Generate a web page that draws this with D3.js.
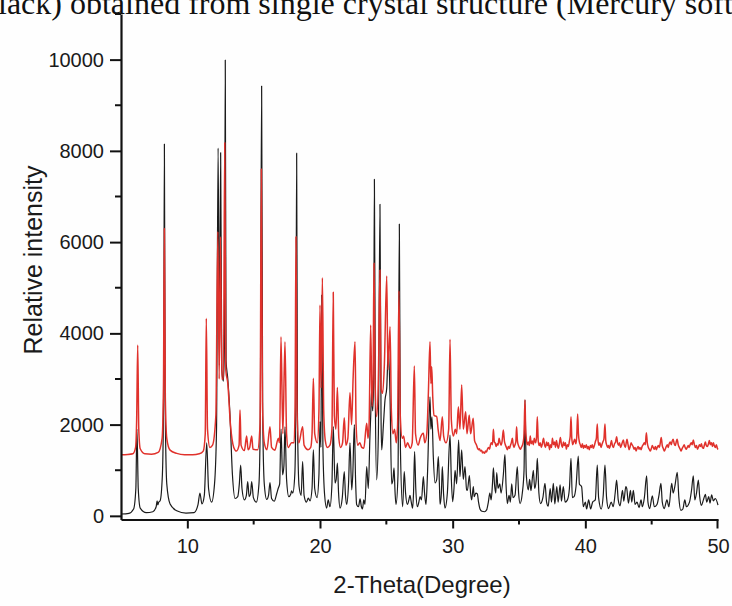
<!DOCTYPE html>
<html>
<head>
<meta charset="utf-8">
<script src="https://cdn.jsdelivr.net/npm/d3@7"></script>
<style>
  html, body { margin: 0; padding: 0; background: #fefefe; }
  svg { display: block; }
</style>
</head>
<body>
<svg id="chart" width="732" height="606"></svg>
<script>
// Calculated pattern (black): [2-theta, intensity]
const calculated = [
  [5.0, 40], [5.6, 55], [5.95, 150], [6.12, 600], [6.2, 1900], [6.3, 600], [6.45, 170], [6.9, 70],
  [7.4, 90], [7.65, 200], [7.72, 330], [7.78, 240], [7.84, 300], [7.95, 330], [8.12, 900], [8.22, 3000],
  [8.27, 8150], [8.33, 2500], [8.45, 700], [8.7, 260], [9.2, 110], [9.9, 60], [10.5, 70], [10.8, 240],
  [10.95, 500], [11.1, 260], [11.28, 450], [11.46, 1600], [11.6, 600], [11.83, 300], [12.05, 700], [12.2, 1900],
  [12.32, 8060], [12.42, 3300], [12.51, 7960], [12.6, 3200], [12.72, 2950], [12.8, 3800], [12.86, 9990], [12.92, 3400],
  [13.05, 3000], [13.2, 2300], [13.4, 900], [13.6, 380], [13.8, 420], [13.92, 700], [14.02, 1115], [14.12, 600],
  [14.3, 350], [14.45, 450], [14.55, 750], [14.66, 420], [14.76, 480], [14.85, 750], [14.98, 400], [15.2, 300],
  [15.4, 700], [15.5, 2200], [15.6, 9420], [15.68, 2200], [15.8, 700], [15.98, 360], [16.12, 450], [16.23, 730],
  [16.35, 380], [16.55, 320], [16.75, 500], [16.86, 610], [16.96, 700], [17.06, 1900], [17.18, 900], [17.28, 1100],
  [17.36, 1950], [17.48, 800], [17.65, 420], [17.8, 480], [17.86, 550], [17.95, 500], [18.1, 900], [18.18, 2500],
  [18.24, 7950], [18.3, 2200], [18.42, 650], [18.58, 450], [18.69, 1190], [18.8, 450], [18.98, 300], [19.12, 390],
  [19.25, 330], [19.4, 600], [19.5, 1445], [19.6, 600], [19.78, 400], [19.92, 900], [20.0, 2065], [20.07, 1500],
  [20.13, 4840], [20.22, 1500], [20.35, 450], [20.5, 170], [20.62, 350], [20.75, 200], [20.9, 700], [21.0, 1955],
  [21.13, 720], [21.22, 800], [21.31, 1155], [21.4, 500], [21.51, 170], [21.68, 400], [21.83, 970], [21.92, 450],
  [22.01, 250], [22.15, 700], [22.26, 1600], [22.39, 570], [22.47, 900], [22.59, 2000], [22.68, 800], [22.76, 250],
  [22.9, 200], [23.02, 370], [23.12, 200], [23.2, 150], [23.3, 350], [23.39, 250], [23.52, 1080], [23.64, 600],
  [23.77, 1800], [23.82, 2170], [23.89, 2750], [23.97, 2300], [24.04, 2900], [24.1, 7376], [24.17, 2600], [24.27, 790],
  [24.4, 1800], [24.52, 6828], [24.6, 2200], [24.65, 1445], [24.78, 2000], [24.9, 2540], [25.03, 2800], [25.15, 3670],
  [25.28, 2600], [25.4, 700], [25.5, 800], [25.58, 1050], [25.66, 500], [25.73, 250], [25.88, 900], [25.98, 6397],
  [26.06, 1500], [26.23, 200], [26.35, 970], [26.45, 500], [26.58, 250], [26.7, 350], [26.78, 450], [26.88, 300],
  [26.98, 170], [27.05, 500], [27.13, 1410], [27.22, 600], [27.34, 200], [27.45, 300], [27.54, 420], [27.65, 350],
  [27.79, 860], [27.88, 500], [27.99, 250], [28.1, 900], [28.29, 2610], [28.36, 1900], [28.44, 2170], [28.54, 1300],
  [28.67, 720], [28.8, 800], [28.92, 1300], [29.0, 700], [29.05, 250], [29.15, 500], [29.22, 1080], [29.32, 450],
  [29.42, 170], [29.6, 500], [29.8, 1770], [29.9, 800], [30.0, 310], [30.1, 600], [30.18, 1000], [30.3, 700],
  [30.45, 1660], [30.55, 860], [30.68, 1445], [30.8, 800], [30.93, 1080], [31.05, 570], [31.11, 560], [31.26, 880],
  [31.35, 500], [31.43, 350], [31.56, 640], [31.62, 420], [31.75, 500], [31.86, 480], [31.95, 300], [32.06, 150],
  [32.2, 100], [32.4, 90], [32.56, 130], [32.69, 300], [32.8, 500], [32.9, 350], [33.0, 700], [33.07, 1050],
  [33.15, 700], [33.25, 500], [33.32, 950], [33.42, 600], [33.55, 700], [33.65, 500], [33.82, 900], [33.94, 1340],
  [34.02, 700], [34.12, 270], [34.25, 450], [34.35, 300], [34.45, 700], [34.55, 400], [34.7, 450], [34.87, 1080],
  [34.97, 500], [35.08, 270], [35.25, 500], [35.38, 1000], [35.45, 2540], [35.55, 900], [35.7, 570], [35.8, 800],
  [35.9, 550], [36.08, 1000], [36.18, 600], [36.3, 800], [36.38, 1260], [36.5, 500], [36.62, 270], [36.8, 400],
  [36.96, 710], [37.08, 300], [37.2, 210], [37.35, 600], [37.45, 300], [37.59, 710], [37.7, 260], [37.85, 640],
  [37.95, 300], [38.1, 680], [38.2, 320], [38.34, 640], [38.48, 300], [38.65, 350], [38.8, 600], [38.92, 1260],
  [39.02, 400], [39.15, 420], [39.3, 650], [39.47, 1310], [39.55, 700], [39.72, 640], [39.85, 200], [40.0, 300],
  [40.1, 150], [40.25, 350], [40.4, 150], [40.55, 300], [40.75, 350], [40.9, 1115], [41.0, 400], [41.2, 150],
  [41.35, 450], [41.48, 1115], [41.6, 400], [41.75, 160], [41.95, 300], [42.1, 200], [42.25, 500], [42.36, 785],
  [42.48, 350], [42.62, 220], [42.8, 560], [42.9, 320], [43.05, 640], [43.12, 600], [43.25, 280], [43.4, 560],
  [43.5, 300], [43.62, 560], [43.75, 250], [43.9, 300], [44.05, 180], [44.2, 350], [44.3, 200], [44.45, 400],
  [44.62, 875], [44.72, 300], [44.85, 160], [45.05, 440], [45.2, 200], [45.4, 250], [45.55, 450], [45.7, 710],
  [45.8, 300], [45.95, 160], [46.15, 350], [46.3, 200], [46.51, 710], [46.62, 500], [46.75, 650], [46.93, 955],
  [47.05, 400], [47.2, 120], [47.35, 150], [47.5, 350], [47.62, 200], [47.85, 300], [48.0, 550], [48.14, 875],
  [48.25, 347], [48.38, 500], [48.52, 785], [48.62, 420], [48.75, 230], [48.9, 350], [49.05, 470], [49.15, 300],
  [49.3, 420], [49.4, 280], [49.52, 460], [49.65, 330], [49.8, 380], [50.0, 237]
];

// Measured pattern (red): [2-theta, intensity]
const measured = [
  [5.0, 1340], [5.5, 1345], [5.9, 1360], [6.1, 1500], [6.18, 2100], [6.26, 3745], [6.34, 1900], [6.45, 1470],
  [6.8, 1360], [7.3, 1350], [7.8, 1390], [8.1, 1700], [8.2, 2800], [8.27, 6300], [8.34, 2600], [8.45, 1700],
  [8.7, 1440], [9.2, 1370], [9.8, 1340], [10.4, 1340], [10.9, 1360], [11.2, 1420], [11.35, 1800], [11.43, 4330],
  [11.52, 1900], [11.7, 1500], [11.9, 1550], [12.15, 2200], [12.3, 6230], [12.4, 3000], [12.5, 6120], [12.6, 3000],
  [12.72, 3000], [12.82, 8180], [12.9, 3200], [13.05, 2900], [13.25, 2000], [13.5, 1500], [13.7, 1420], [13.9, 1550],
  [13.97, 2320], [14.05, 1550], [14.3, 1430], [14.47, 1750], [14.58, 1450], [14.7, 1500], [14.85, 1750], [14.95, 1460],
  [15.3, 1450], [15.48, 2000], [15.58, 7600], [15.66, 2500], [15.8, 1600], [16.0, 1450], [16.23, 1954], [16.35, 1500],
  [16.6, 1440], [16.86, 1700], [16.95, 1600], [17.06, 3927], [17.2, 1800], [17.36, 3818], [17.48, 1800], [17.6, 1500],
  [17.86, 1600], [18.05, 1600], [18.12, 2400], [18.19, 6120], [18.27, 2300], [18.4, 1600], [18.69, 1954], [18.8, 1550],
  [19.1, 1450], [19.3, 1500], [19.4, 1800], [19.5, 3015], [19.6, 1800], [19.8, 1600], [19.92, 2300], [20.0, 4621],
  [20.08, 2800], [20.18, 5220], [20.28, 2300], [20.4, 1650], [20.55, 1500], [20.75, 1550], [20.9, 1900], [21.0, 4899],
  [21.08, 2200], [21.2, 1900], [21.31, 2816], [21.42, 1700], [21.55, 1500], [21.7, 1600], [21.83, 2151], [21.95, 1550],
  [22.1, 1700], [22.26, 2699], [22.38, 2000], [22.5, 3050], [22.64, 3818], [22.72, 2000], [22.85, 1550], [23.0, 1600],
  [23.15, 1500], [23.3, 1480], [23.52, 2027], [23.62, 1700], [23.7, 2000], [23.82, 4183], [23.92, 2400], [24.0, 3000],
  [24.07, 5535], [24.15, 3000], [24.27, 2173], [24.4, 3000], [24.52, 5389], [24.6, 2800], [24.72, 2685], [24.85, 3300],
  [25.03, 5257], [25.12, 3200], [25.28, 4146], [25.38, 2300], [25.5, 1800], [25.62, 1900], [25.75, 1600], [25.85, 2000],
  [25.95, 4935], [26.05, 2200], [26.2, 1700], [26.3, 1750], [26.45, 1500], [26.6, 1600], [26.8, 1480], [26.95, 1600],
  [27.11, 3284], [27.2, 1800], [27.4, 1550], [27.55, 1700], [27.79, 1808], [27.9, 1600], [28.05, 1800], [28.17, 2700],
  [28.29, 3817], [28.36, 2900], [28.42, 3269], [28.5, 2600], [28.6, 2200], [28.8, 2173], [28.9, 1900], [29.05, 1650],
  [29.22, 2173], [29.32, 1750], [29.5, 1600], [29.7, 1900], [29.8, 3869], [29.9, 2100], [30.05, 1750], [30.2, 1900],
  [30.3, 1800], [30.43, 2393], [30.55, 1900], [30.68, 2868], [30.8, 1900], [30.98, 2283], [31.08, 1800], [31.25, 2210],
  [31.35, 1800], [31.55, 2137], [31.65, 1650], [31.8, 1550], [31.88, 1480], [31.95, 1450], [32.02, 1470], [32.1, 1420],
  [32.18, 1440], [32.25, 1380], [32.32, 1400], [32.4, 1370], [32.48, 1420], [32.55, 1400], [32.62, 1460], [32.7, 1500],
  [32.78, 1460], [32.85, 1560], [32.92, 1600], [33.0, 1560], [33.07, 1896], [33.14, 1620], [33.2, 1600], [33.28, 1520],
  [33.35, 1580], [33.42, 1550], [33.5, 1700], [33.58, 1600], [33.65, 1550], [33.72, 1620], [33.82, 1881], [33.9, 1640],
  [33.97, 1560], [34.05, 1500], [34.12, 1450], [34.2, 1520], [34.28, 1480], [34.35, 1540], [34.42, 1600], [34.5, 1700],
  [34.56, 1560], [34.62, 1500], [34.7, 1560], [34.76, 1620], [34.82, 1954], [34.88, 1650], [34.95, 1550], [35.02, 1500],
  [35.1, 1460], [35.18, 1500], [35.25, 1540], [35.32, 1620], [35.38, 1800], [35.45, 2540], [35.5, 1900], [35.55, 1700],
  [35.62, 1560], [35.7, 1620], [35.78, 1540], [35.85, 1750], [35.92, 1580], [36.0, 1640], [36.08, 1560], [36.15, 1700],
  [36.25, 1600], [36.32, 1720], [36.38, 2174], [36.45, 1640], [36.52, 1540], [36.6, 1600], [36.68, 1500], [36.76, 1580],
  [36.85, 1700], [36.92, 1560], [37.0, 1500], [37.08, 1620], [37.15, 1540], [37.22, 1600], [37.3, 1450], [37.38, 1560],
  [37.45, 1500], [37.52, 1700], [37.6, 1560], [37.68, 1620], [37.75, 1500], [37.82, 1650], [37.9, 1540], [37.97, 1480],
  [38.05, 1600], [38.12, 1720], [38.2, 1560], [38.28, 1500], [38.35, 1620], [38.42, 1540], [38.5, 1600], [38.57, 1460],
  [38.65, 1560], [38.72, 1520], [38.8, 1640], [38.86, 1750], [38.92, 2174], [38.98, 1700], [39.05, 1560], [39.12, 1620],
  [39.2, 1680], [39.28, 1580], [39.35, 1720], [39.42, 2232], [39.48, 1800], [39.55, 1620], [39.62, 1560], [39.7, 1500],
  [39.78, 1580], [39.85, 1480], [39.92, 1540], [40.0, 1500], [40.08, 1560], [40.15, 1470], [40.22, 1520], [40.3, 1450],
  [40.38, 1540], [40.45, 1500], [40.52, 1560], [40.6, 1480], [40.68, 1540], [40.75, 1620], [40.83, 1700], [40.9, 2013],
  [40.96, 1650], [41.03, 1550], [41.1, 1600], [41.18, 1500], [41.25, 1560], [41.32, 1620], [41.4, 1680], [41.48, 2013],
  [41.54, 1650], [41.6, 1560], [41.68, 1500], [41.75, 1540], [41.82, 1480], [41.9, 1560], [41.97, 1650], [42.04, 1540],
  [42.12, 1500], [42.2, 1580], [42.28, 1620], [42.36, 1735], [42.43, 1600], [42.5, 1550], [42.58, 1600], [42.65, 1500],
  [42.72, 1540], [42.8, 1620], [42.87, 1660], [42.94, 1550], [43.02, 1500], [43.08, 1600], [43.14, 1680], [43.22, 1560],
  [43.3, 1450], [43.38, 1520], [43.45, 1600], [43.52, 1560], [43.6, 1520], [43.68, 1460], [43.75, 1500], [43.82, 1420],
  [43.9, 1480], [43.98, 1520], [44.05, 1460], [44.12, 1500], [44.2, 1450], [44.28, 1520], [44.36, 1560], [44.44, 1600],
  [44.52, 1560], [44.6, 1823], [44.67, 1600], [44.75, 1500], [44.82, 1460], [44.9, 1420], [44.98, 1480], [45.05, 1540],
  [45.12, 1500], [45.2, 1460], [45.28, 1520], [45.35, 1450], [45.42, 1500], [45.5, 1540], [45.58, 1500], [45.65, 1600],
  [45.72, 1720], [45.8, 1540], [45.87, 1480], [45.95, 1420], [46.02, 1460], [46.1, 1520], [46.18, 1560], [46.25, 1500],
  [46.32, 1580], [46.4, 1620], [46.48, 1560], [46.55, 1640], [46.62, 1680], [46.7, 1580], [46.78, 1540], [46.85, 1620],
  [46.92, 1680], [47.0, 1560], [47.08, 1500], [47.15, 1460], [47.22, 1420], [47.3, 1480], [47.38, 1520], [47.45, 1560],
  [47.52, 1500], [47.6, 1460], [47.68, 1500], [47.75, 1540], [47.82, 1500], [47.9, 1560], [47.98, 1600], [48.05, 1560],
  [48.14, 1662], [48.22, 1560], [48.3, 1500], [48.38, 1540], [48.45, 1460], [48.52, 1500], [48.6, 1560], [48.68, 1520],
  [48.75, 1580], [48.82, 1500], [48.9, 1480], [48.98, 1560], [49.05, 1620], [49.12, 1540], [49.2, 1520], [49.28, 1580],
  [49.35, 1650], [49.42, 1560], [49.5, 1600], [49.58, 1520], [49.65, 1600], [49.72, 1540], [49.8, 1500], [49.88, 1560],
  [49.95, 1480], [50.0, 1455]
];

const xMajorTicks = [10, 20, 30, 40, 50];
const xMinorTicks = [15, 25, 35, 45];
const yMajorTicks = [0, 2000, 4000, 6000, 8000, 10000];
const yMinorTicks = [1000, 3000, 5000, 7000, 9000, 11000];

const captionText = "black) obtained from single crystal structure (Mercury soft";
const xTitle = "2-Theta(Degree)";
const yTitle = "Relative intensity";

const svg = d3.select("#chart");
const sansFont = "'Liberation Sans', Arial, sans-serif";

const x = d3.scaleLinear().domain([5, 50]).range([121, 718]);
const y = d3.scaleLinear().domain([-80, 11000]).range([519.5, 14]);

// caption line running across the top edge
svg.append("text")
  .attr("x", -18).attr("y", 14)
  .attr("font-family", "'Liberation Serif', 'Times New Roman', serif")
  .attr("font-size", 32)
  .attr("fill", "#111")
  .text(captionText);

const line = d3.line()
  .x(d => x(d[0]))
  .y(d => y(d[1]))
  .curve(d3.curveMonotoneX);

svg.append("path")
  .datum(calculated)
  .attr("fill", "none")
  .attr("stroke", "#1b1b1b")
  .attr("stroke-width", 1.2)
  .attr("stroke-linejoin", "round")
  .attr("d", line);

svg.append("path")
  .datum(measured)
  .attr("fill", "none")
  .attr("stroke", "#e0312b")
  .attr("stroke-width", 1.5)
  .attr("stroke-linejoin", "round")
  .attr("d", line);

// bottom axis
const xAxis = d3.axisBottom(x)
  .tickValues(xMajorTicks)
  .tickSize(9)
  .tickPadding(10)
  .tickSizeOuter(0)
  .tickFormat(d3.format("d"));
const gx = svg.append("g")
  .attr("transform", `translate(0,${y.range()[0]})`)
  .call(xAxis);
gx.selectAll(".tick").filter(d => d === 50).select("line").attr("transform", "translate(-1,0)");
gx.selectAll(null)
  .data(xMinorTicks)
  .enter().append("line")
  .attr("x1", d => x(d)).attr("x2", d => x(d))
  .attr("y1", 0).attr("y2", 5)
  .attr("stroke", "#111");

// left axis
const yAxis = d3.axisLeft(y)
  .tickValues(yMajorTicks)
  .tickSize(11)
  .tickPadding(6)
  .tickSizeOuter(0)
  .tickFormat(d3.format("d"));
const gy = svg.append("g")
  .attr("transform", `translate(${x.range()[0]},0)`)
  .call(yAxis);
gy.selectAll(null)
  .data(yMinorTicks)
  .enter().append("line")
  .attr("x1", -6).attr("x2", 0)
  .attr("y1", d => y(d)).attr("y2", d => y(d))
  .attr("stroke", "#111");

[gx, gy].forEach(g => {
  g.select(".domain").attr("stroke", "#111").attr("stroke-width", 2.2);
  g.selectAll("line").attr("stroke", "#111").attr("stroke-width", 2);
  g.selectAll("text")
    .attr("font-family", sansFont)
    .attr("font-size", 20)
    .attr("fill", "#1a1a1a");
});

// axis titles
svg.append("text")
  .attr("x", 422).attr("y", 593)
  .attr("text-anchor", "middle")
  .attr("font-family", sansFont)
  .attr("font-size", 24)
  .attr("fill", "#1a1a1a")
  .text(xTitle);

svg.append("text")
  .attr("transform", "translate(42,260) rotate(-90)")
  .attr("text-anchor", "middle")
  .attr("font-family", sansFont)
  .attr("font-size", 25)
  .attr("fill", "#1a1a1a")
  .text(yTitle);
</script>
</body>
</html>
